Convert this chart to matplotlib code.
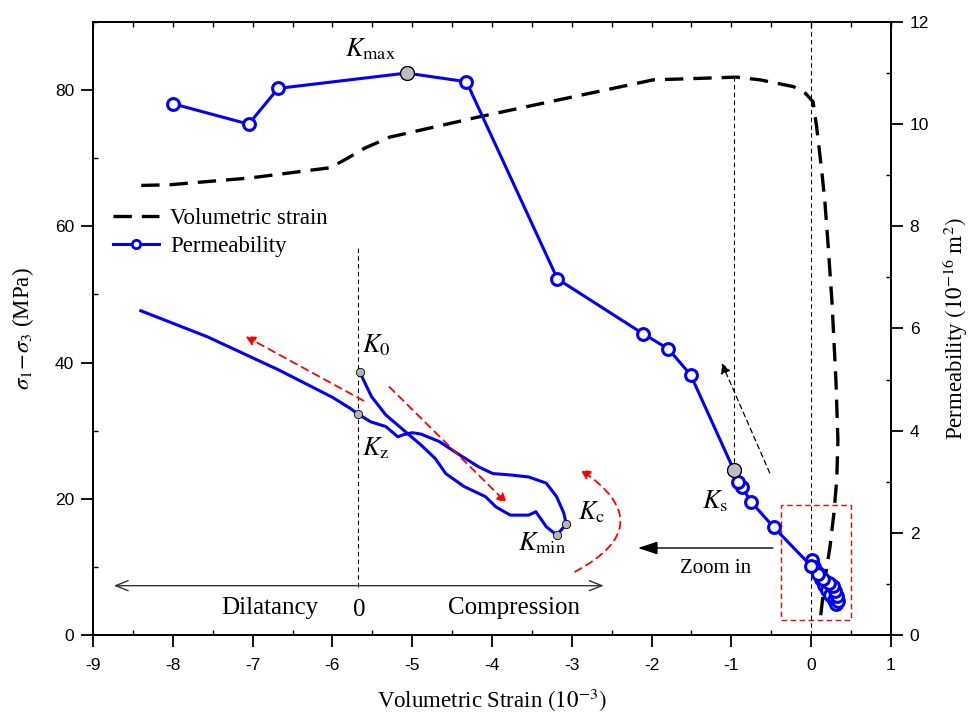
import matplotlib
matplotlib.use('Agg')
import matplotlib.pyplot as plt
from matplotlib.lines import Line2D
from matplotlib.patches import Rectangle
from matplotlib.ticker import MultipleLocator

plt.rcParams['font.family'] = ['Liberation Serif', 'DejaVu Serif']
plt.rcParams['mathtext.fontset'] = 'stix'
plt.rcParams['axes.unicode_minus'] = False

# Volumetric strain (10^-3) vs deviatoric stress (MPa), in loading order
vs_strain = [0.12, 0.17, 0.235, 0.285, 0.32, 0.335, 0.31, 0.26, 0.21, 0.173, 0.131, 0.068,
             0.023, -0.07, -0.22, -0.64, -0.94, -1.98, -3.15, -4.15, -5.28, -5.59, -5.84,
             -6.03, -7.03, -8.04, -8.40]
vs_stress = [2.9, 8.1, 12.9, 17.9, 22.8, 28.6, 37.4, 49.0, 57.6, 63.4, 68.3, 74.6,
             78.3, 79.5, 80.5, 81.5, 81.9, 81.5, 78.6, 76.1, 73.1, 71.5, 69.8,
             68.6, 67.1, 66.1, 66.0]

# Permeability (10^-16 m^2) vs volumetric strain, in loading order
perm_strain = [0.01, 0.04, 0.08, 0.12, 0.16, 0.20, 0.24, 0.28, 0.31, 0.33, 0.32, 0.30,
               0.27, 0.22, 0.15, 0.08, 0.0, -0.47, -0.75, -0.87, -0.92, -0.97, -1.51,
               -1.79, -2.11, -3.18, -4.32, -5.07, -6.68, -7.05, -8.0]
perm_k = [1.47, 1.33, 1.22, 1.10, 0.98, 0.88, 0.78, 0.68, 0.60, 0.66, 0.76, 0.86,
          0.95, 1.02, 1.10, 1.20, 1.35, 2.11, 2.60, 2.90, 3.00, 3.23, 5.09,
          5.60, 5.90, 6.97, 10.83, 11.00, 10.70, 10.00, 10.40]
ks_idx = 21
kmax_idx = 27

# schematic inset (drawn in strain / stress units of the main axes)
dil_s = [-8.40, -7.57, -6.67, -6.00, -5.78, -5.68]
dil_m = [47.6, 43.8, 38.9, 34.9, 33.3, 32.45]
up_s = [-5.68, -5.52, -5.33, -5.18, -5.11, -5.00, -4.89, -4.66, -4.44, -4.17, -3.99,
        -3.77, -3.54, -3.32, -3.19, -3.10, -3.07]
up_m = [32.45, 31.3, 30.6, 29.1, 29.4, 29.7, 29.5, 28.4, 26.7, 24.7, 23.7,
        23.5, 23.2, 22.3, 20.3, 17.9, 16.25]
low_s = [-5.66, -5.51, -5.33, -5.07, -4.89, -4.71, -4.58, -4.35, -4.08, -3.95, -3.77,
         -3.54, -3.45, -3.32, -3.19]
low_m = [38.66, 35.0, 32.3, 29.7, 27.9, 25.9, 23.7, 21.8, 20.3, 18.8, 17.6,
         17.6, 18.1, 15.9, 14.68]

fig = plt.figure(figsize=(9.79, 7.18), dpi=100)
ax = fig.add_axes([0.095, 0.1156, 0.8151, 0.8538])
ax2 = ax.twinx()

# main curves
ax.plot(vs_strain, vs_stress, color='black', lw=2.4, dashes=(5.5, 3), zorder=3)
ax2.plot(perm_strain, perm_k, color='blue', lw=2.2, marker='o', ms=8.5,
         mfc='white', mec='blue', mew=2.2, zorder=4)
ax2.plot([perm_strain[kmax_idx], perm_strain[ks_idx]], [perm_k[kmax_idx], perm_k[ks_idx]],
         'o', ms=10, mfc='#bdbdbd', mec='black', mew=0.9, zorder=5)

ax.set_xlim(-9, 1)
ax.set_ylim(0, 90)
ax2.set_ylim(0, 12)

# guide lines
dot = (0, (4, 3))
ax.axvline(0, color='black', lw=0.8, ls=dot, zorder=2)
ax.plot([perm_strain[ks_idx]] * 2, [24.2, 81.9], color='black', lw=0.8, ls=dot, zorder=2)
ax.plot([-5.68, -5.68], [56.8, 6.9], color='black', lw=0.8, ls=dot, zorder=2)

# inset schematic
for xs, ys in [(dil_s, dil_m), (up_s, up_m), (low_s, low_m)]:
    ax.plot(xs, ys, color='blue', lw=2.2, zorder=3)
ax.plot([low_s[-1], up_s[-1]], [low_m[-1], up_m[-1]], color='blue', lw=2.2, zorder=3)
ax.plot([low_s[0], up_s[0], up_s[-1], low_s[-1]], [low_m[0], up_m[0], up_m[-1], low_m[-1]],
        'o', ms=6, mfc='#b4b4b4', mec='black', mew=0.6, zorder=4)

ktxt = dict(fontsize=19, ha='left', va='center')
ax.text(-5.63, 42.6, r'$K_{0}$', **ktxt)
ax.text(-5.63, 27.4, r'$K_{\mathrm{z}}$', **ktxt)
ax.text(-2.92, 18.0, r'$K_{\mathrm{c}}$', **ktxt)
ax.text(-3.67, 13.5, r'$K_{\mathrm{min}}$', **ktxt)
ax.text(-5.84, 86.0, r'$K_{\mathrm{max}}$', **ktxt)
ax.text(-1.37, 19.6, r'$K_{\mathrm{s}}$', **ktxt)

red_dash = dict(arrowstyle='-|>', color='red', lw=1.3, linestyle=(0, (4, 3)), mutation_scale=14)
ax.annotate('', xy=(-7.12, 44.05), xytext=(-5.58, 34.2), arrowprops=red_dash)
ax.annotate('', xy=(-3.79, 19.1), xytext=(-5.31, 36.7), arrowprops=red_dash)
ax.annotate('', xy=(-2.92, 24.5), xytext=(-2.99, 9.1),
            arrowprops=dict(red_dash, connectionstyle='arc3,rad=0.85'))

ax.annotate('', xy=(-8.74, 7.24), xytext=(-2.60, 7.24),
            arrowprops=dict(arrowstyle='<->,head_length=0.5,head_width=0.2', color='#333333',
                            lw=1.0, mutation_scale=18, shrinkA=0, shrinkB=0))
ax.text(-6.78, 3.9, 'Dilatancy', fontsize=18, ha='center', va='center')
ax.text(-5.66, 3.6, '0', fontsize=18, ha='center', va='center')
ax.text(-3.72, 3.9, 'Compression', fontsize=18, ha='center', va='center')

# zoom box and arrows
ax.add_patch(Rectangle((-0.378, 2.2), 0.877, 16.9, fill=False, ec='red', lw=1.0,
                       ls=(0, (4, 2.5)), zorder=2))
ax.annotate('', xy=(-2.17, 12.77), xytext=(-0.48, 12.77),
            arrowprops=dict(arrowstyle='-|>,head_length=0.6,head_width=0.2', color='black',
                            lw=1.0, mutation_scale=20, shrinkA=0, shrinkB=0))
ax.text(-1.2, 9.8, 'Zoom in', fontsize=15, ha='center', va='center')
ax.annotate('', xy=(-1.12, 39.9), xytext=(-0.52, 23.8),
            arrowprops=dict(arrowstyle='-|>', color='black', lw=0.9, linestyle=(0, (4, 3)),
                            mutation_scale=15, shrinkA=0, shrinkB=0))

# ticks
ax.xaxis.set_major_locator(MultipleLocator(1))
ax.xaxis.set_minor_locator(MultipleLocator(0.5))
ax.yaxis.set_major_locator(MultipleLocator(20))
ax.yaxis.set_minor_locator(MultipleLocator(10))
ax2.yaxis.set_major_locator(MultipleLocator(2))
ax2.yaxis.set_minor_locator(MultipleLocator(1))
for a in (ax, ax2):
    a.tick_params(which='major', direction='out', length=8.5, width=1.3, labelsize=12.5,
                  labelfontfamily='Liberation Sans', pad=5)
    a.tick_params(which='minor', direction='in', length=3.5, width=1.0)
    for sp in a.spines.values():
        sp.set_linewidth(1.3)
ax.tick_params(axis='x', which='major', pad=8)
sec = ax.secondary_xaxis('top')
sec.xaxis.set_major_locator(MultipleLocator(1))
sec.xaxis.set_minor_locator(MultipleLocator(0.5))
sec.tick_params(which='both', direction='in', length=3.5, width=1.0, labeltop=False)
sec.spines['top'].set_linewidth(1.3)

ax.set_xlabel(r'Volumetric Strain $\left(10^{-3}\right)$', fontsize=16.5, labelpad=10)
ax.set_ylabel(r'$\sigma_{1}\!-\!\sigma_{3}$ (MPa)', fontsize=16.5, labelpad=14)
ax2.set_ylabel(r'Permeability $\left(10^{-16}\ \mathrm{m}^{2}\right)$', fontsize=16.5, labelpad=8)

handles = [Line2D([], [], color='black', lw=2.4, dashes=(5.5, 3)),
           Line2D([], [], color='blue', lw=2.2, marker='o', ms=6, mfc='white', mec='blue', mew=2)]
ax2.legend(handles, ['Volumetric strain', 'Permeability'], loc='upper left',
           bbox_to_anchor=(0.025, 0.697), frameon=False, fontsize=16.5, handlelength=2.0,
           handletextpad=0.5, labelspacing=0.3, borderpad=0, borderaxespad=0)

fig.savefig('out.png', dpi=100)
